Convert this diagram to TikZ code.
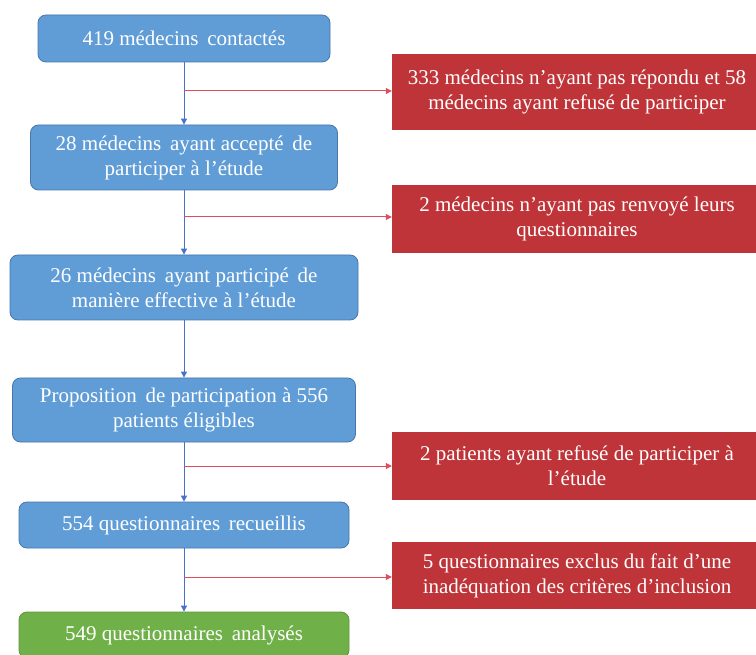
\documentclass[tikz,border=0pt]{standalone}
\usepackage{fontspec}
\setmainfont{Liberation Serif}
\usetikzlibrary{arrows.meta}
\definecolor{bfill}{RGB}{96,157,215}
\definecolor{bdraw}{RGB}{70,120,170}
\definecolor{rfill}{RGB}{190,52,56}
\definecolor{gfill}{RGB}{112,176,72}
\definecolor{bline}{RGB}{70,115,200}
\definecolor{rline}{RGB}{222,78,92}
\begin{document}
\begin{tikzpicture}[x=1pt,y=-1pt,
  bluebox/.style={draw=bdraw, line width=0.8pt, fill=bfill, rounded corners=8pt, text=white, align=center, inner sep=0pt, font=\fontsize{21}{25}\selectfont},
  greenbox/.style={bluebox, draw=gfill!85!black, fill=gfill},
  redbox/.style={fill=rfill, text=white, align=center, inner sep=0pt, minimum width=370pt, font=\fontsize{21}{25}\selectfont},
  vflow/.style={draw=bline, line width=1pt, -{Triangle[length=6pt,width=6pt]}},
  hflow/.style={draw=rline, line width=1pt, -{Triangle[length=6pt,width=6pt]}}]
\clip (0,0) rectangle (756,655);
\fill[white] (0,0) rectangle (756,655);
\node[bluebox, minimum width=292pt, minimum height=47pt] (b1) at (184,38.5) {419 médecins\, contactés};
\node[bluebox, minimum width=307pt, minimum height=65pt] (b2) at (184,157.5) {28 médecins\, ayant accepté\, de\\participer à l’étude};
\node[bluebox, minimum width=348pt, minimum height=65pt] (b3) at (184,287.5) {26 médecins\, ayant participé\, de\\manière effective à l’étude};
\node[bluebox, minimum width=343pt, minimum height=64pt] (b4) at (184,410) {Proposition\, de participation à 556\\patients éligibles};
\node[bluebox, minimum width=330pt, minimum height=46pt] (b5) at (184,525) {554 questionnaires\, recueillis};
\node[greenbox, minimum width=330pt, minimum height=46pt] (b6) at (184,635) {549 questionnaires\, analysés};

\node[redbox, minimum height=76pt] (r1) at (577,92) {333 médecins n’ayant pas répondu et 58\\médecins ayant refusé de participer};
\node[redbox, minimum height=68pt] (r2) at (577,219) {2 médecins n’ayant pas renvoyé leurs\\questionnaires};
\node[redbox, minimum height=68pt] (r3) at (577,466) {2 patients ayant refusé de participer à\\l’étude};
\node[redbox, minimum height=67pt] (r4) at (577,575.5) {5 questionnaires exclus du fait d’une\\inadéquation des critères d’inclusion};

\draw[vflow] (b1.south) -- (b2.north);
\draw[vflow] (b2.south) -- (b3.north);
\draw[vflow] (b3.south) -- (b4.north);
\draw[vflow] (b4.south) -- (b5.north);
\draw[vflow] (b5.south) -- (b6.north);

\coordinate (j1) at (184,91);
\coordinate (j2) at (184,217);
\coordinate (j3) at (184,466);
\coordinate (j4) at (184,577);
\draw[hflow] (j1) -- (j1 -| r1.west);
\draw[hflow] (j2) -- (j2 -| r2.west);
\draw[hflow] (j3) -- (j3 -| r3.west);
\draw[hflow] (j4) -- (j4 -| r4.west);
\end{tikzpicture}
\end{document}
